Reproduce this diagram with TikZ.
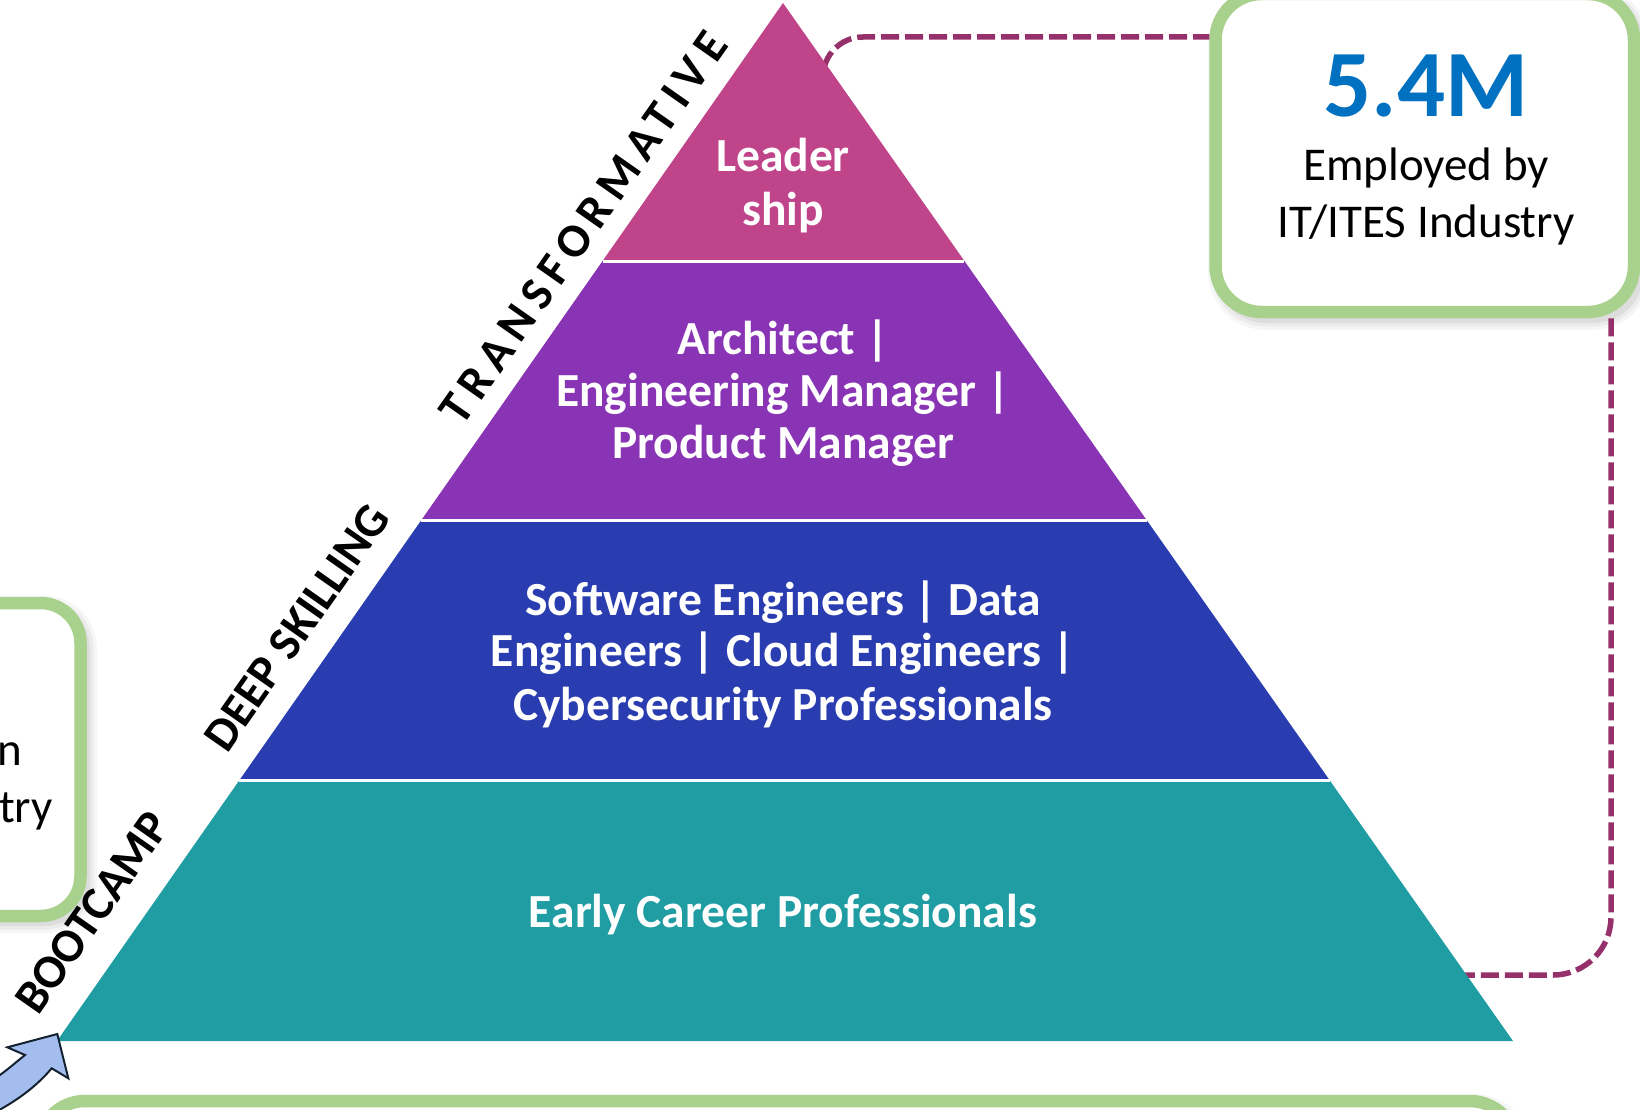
\documentclass[tikz,border=0pt]{standalone}
\usepackage{fontspec}
\setmainfont{Carlito}
\usetikzlibrary{calc}
\definecolor{cpink}{HTML}{C0448A}
\definecolor{cpurple}{HTML}{8933B5}
\definecolor{cblue}{HTML}{2A3DB0}
\definecolor{cteal}{HTML}{1F9DA3}
\definecolor{cgreen}{HTML}{A9D18E}
\definecolor{cdash}{HTML}{96306A}
\definecolor{cnum}{HTML}{0070C0}
\definecolor{carrow}{HTML}{A3BEEE}
\definecolor{carrowline}{HTML}{14222F}
\begin{document}
\begin{tikzpicture}[x=1pt,y=-1pt,
  ptext/.style={text=white, font=\fontsize{47.5}{52}\selectfont\bfseries, inner sep=0pt, anchor=base},
  side/.style={text=black, font=\fontsize{47.5}{52}\selectfont\bfseries, rotate=55, inner sep=0pt, anchor=center},
  boxtext/.style={text=black, font=\fontsize{47}{56}\selectfont, inner sep=0pt},
  greenbox/.style={draw=cgreen, line width=12.5pt, fill=white, rounded corners=46pt},
  softshadow/.style={draw=black, rounded corners=46pt},
  conn/.style={draw=cdash, line width=5.5pt, dash pattern=on 18pt off 6pt},
  sep/.style={draw=white, line width=3pt}
]
\useasboundingbox (0,0) rectangle (1640,1110);
\clip (0,0) rectangle (1640,1110);

% pyramid corners
\coordinate (A) at (783,3);
\coordinate (BL) at (57,1041);
\coordinate (BR) at (1513,1041);
\coordinate (L1) at ($(A)!0.2486!(BL)$);
\coordinate (R1) at ($(A)!0.2486!(BR)$);
\coordinate (L2) at ($(A)!0.4990!(BL)$);
\coordinate (R2) at ($(A)!0.4990!(BR)$);
\coordinate (L3) at ($(A)!0.7495!(BL)$);
\coordinate (R3) at ($(A)!0.7495!(BR)$);

% right box (node) and its shadow
\foreach \w/\o in {24/0.035,17/0.045,10/0.06}
  \draw[softshadow, line width=\w pt, opacity=\o] (1220,-1) rectangle (1639,318);
\node[greenbox, minimum width=418.5pt, minimum height=318pt, inner sep=0pt] (rbox) at (1424.75,153) {};

% dashed connectors (behind the pyramid)
\coordinate (d1) at (823,140);
\coordinate (d2) at (1400,975);
\draw[conn, rounded corners=40pt] (d1) |- (rbox.west |- 0,37);
\draw[conn, rounded corners=58pt] (rbox.south -| 1611,0) |- (d2);

% pyramid bands
\fill[cpink] (A) -- (R1) -- (L1) -- cycle;
\fill[cpurple] (L1) -- (R1) -- (R2) -- (L2) -- cycle;
\fill[cblue] (L2) -- (R2) -- (R3) -- (L3) -- cycle;
\fill[cteal] (L3) -- (R3) -- (BR) -- (BL) -- cycle;
\draw[sep] (L1) -- (R1);
\draw[sep] (L2) -- (R2);
\draw[sep] (L3) -- (R3);

% pyramid texts
\node[ptext] (t1a) at (783,172) {Leader};
\node[ptext] (t1b) at (783,225) {ship};
\node[ptext] (t2a) at (783,354) {Architect |};
\node[ptext] (t2b) at (783,406) {Engineering Manager |};
\node[ptext] (t2c) at (783,458.5) {Product Manager};
\node[ptext] (t3a) at (783,615.5) {Software Engineers | Data};
\node[ptext] (t3b) at (783,666.5) {Engineers | Cloud Engineers |};
\node[ptext] (t3c) at (783,720) {Cybersecurity Professionals};
\node[ptext] (t4) at (783,927) {Early Career Professionals};

% side labels
\node[side] (s1) at (583.5,228) {\addfontfeatures{LetterSpace=16}TRANSFORMATIVE};
\node[side] (s2) at (297,627.5) {DEEP SKILLING};
\node[side] (s3) at (92.5,912) {BOOTCAMP};

% right box texts
\node[inner sep=0pt, anchor=base, text=cnum, font=\fontsize{95}{100}\selectfont\bfseries] (num) at (1426,116.7) {5.4M};
\node[boxtext, anchor=base] (e1) at (1426,181) {Employed by};
\node[boxtext, anchor=base] (e2) at (1426,237.7) {IT/ITES Industry};

% left box
\foreach \w/\o in {24/0.035,17/0.045,10/0.06}
  \draw[softshadow, line width=\w pt, opacity=\o, rounded corners=40pt] (-96,608) rectangle (85,921);
\node[greenbox, rounded corners=40pt, minimum width=280pt, minimum height=313pt, inner sep=0pt] (lbox) at (-59.5,759.5) {};
\node[boxtext, anchor=base east] (l1) at (22,765) {n};
\node[boxtext, anchor=base east] (l2) at (53,822) {try};

% bottom box
\foreach \w/\o in {24/0.035,17/0.045,10/0.06}
  \draw[softshadow, line width=\w pt, opacity=\o] (43,1106) rectangle (1520,1250);
\node[greenbox, minimum width=1477pt, minimum height=160pt, inner sep=0pt] (bbox) at (777.5,1181) {};

% arrow into the pyramid corner
\draw[fill=carrow, draw=carrowline, line width=2pt, line join=miter]
  (57.3,1034) -- (68.3,1078.3) -- (51.7,1068.3)
  .. controls (35,1088) and (15,1102) .. (-10,1115)
  -- (-10,1082)
  .. controls (5,1072) and (15,1063) .. (25,1055)
  -- (7.3,1047.3) -- cycle;
\end{tikzpicture}
\end{document}
